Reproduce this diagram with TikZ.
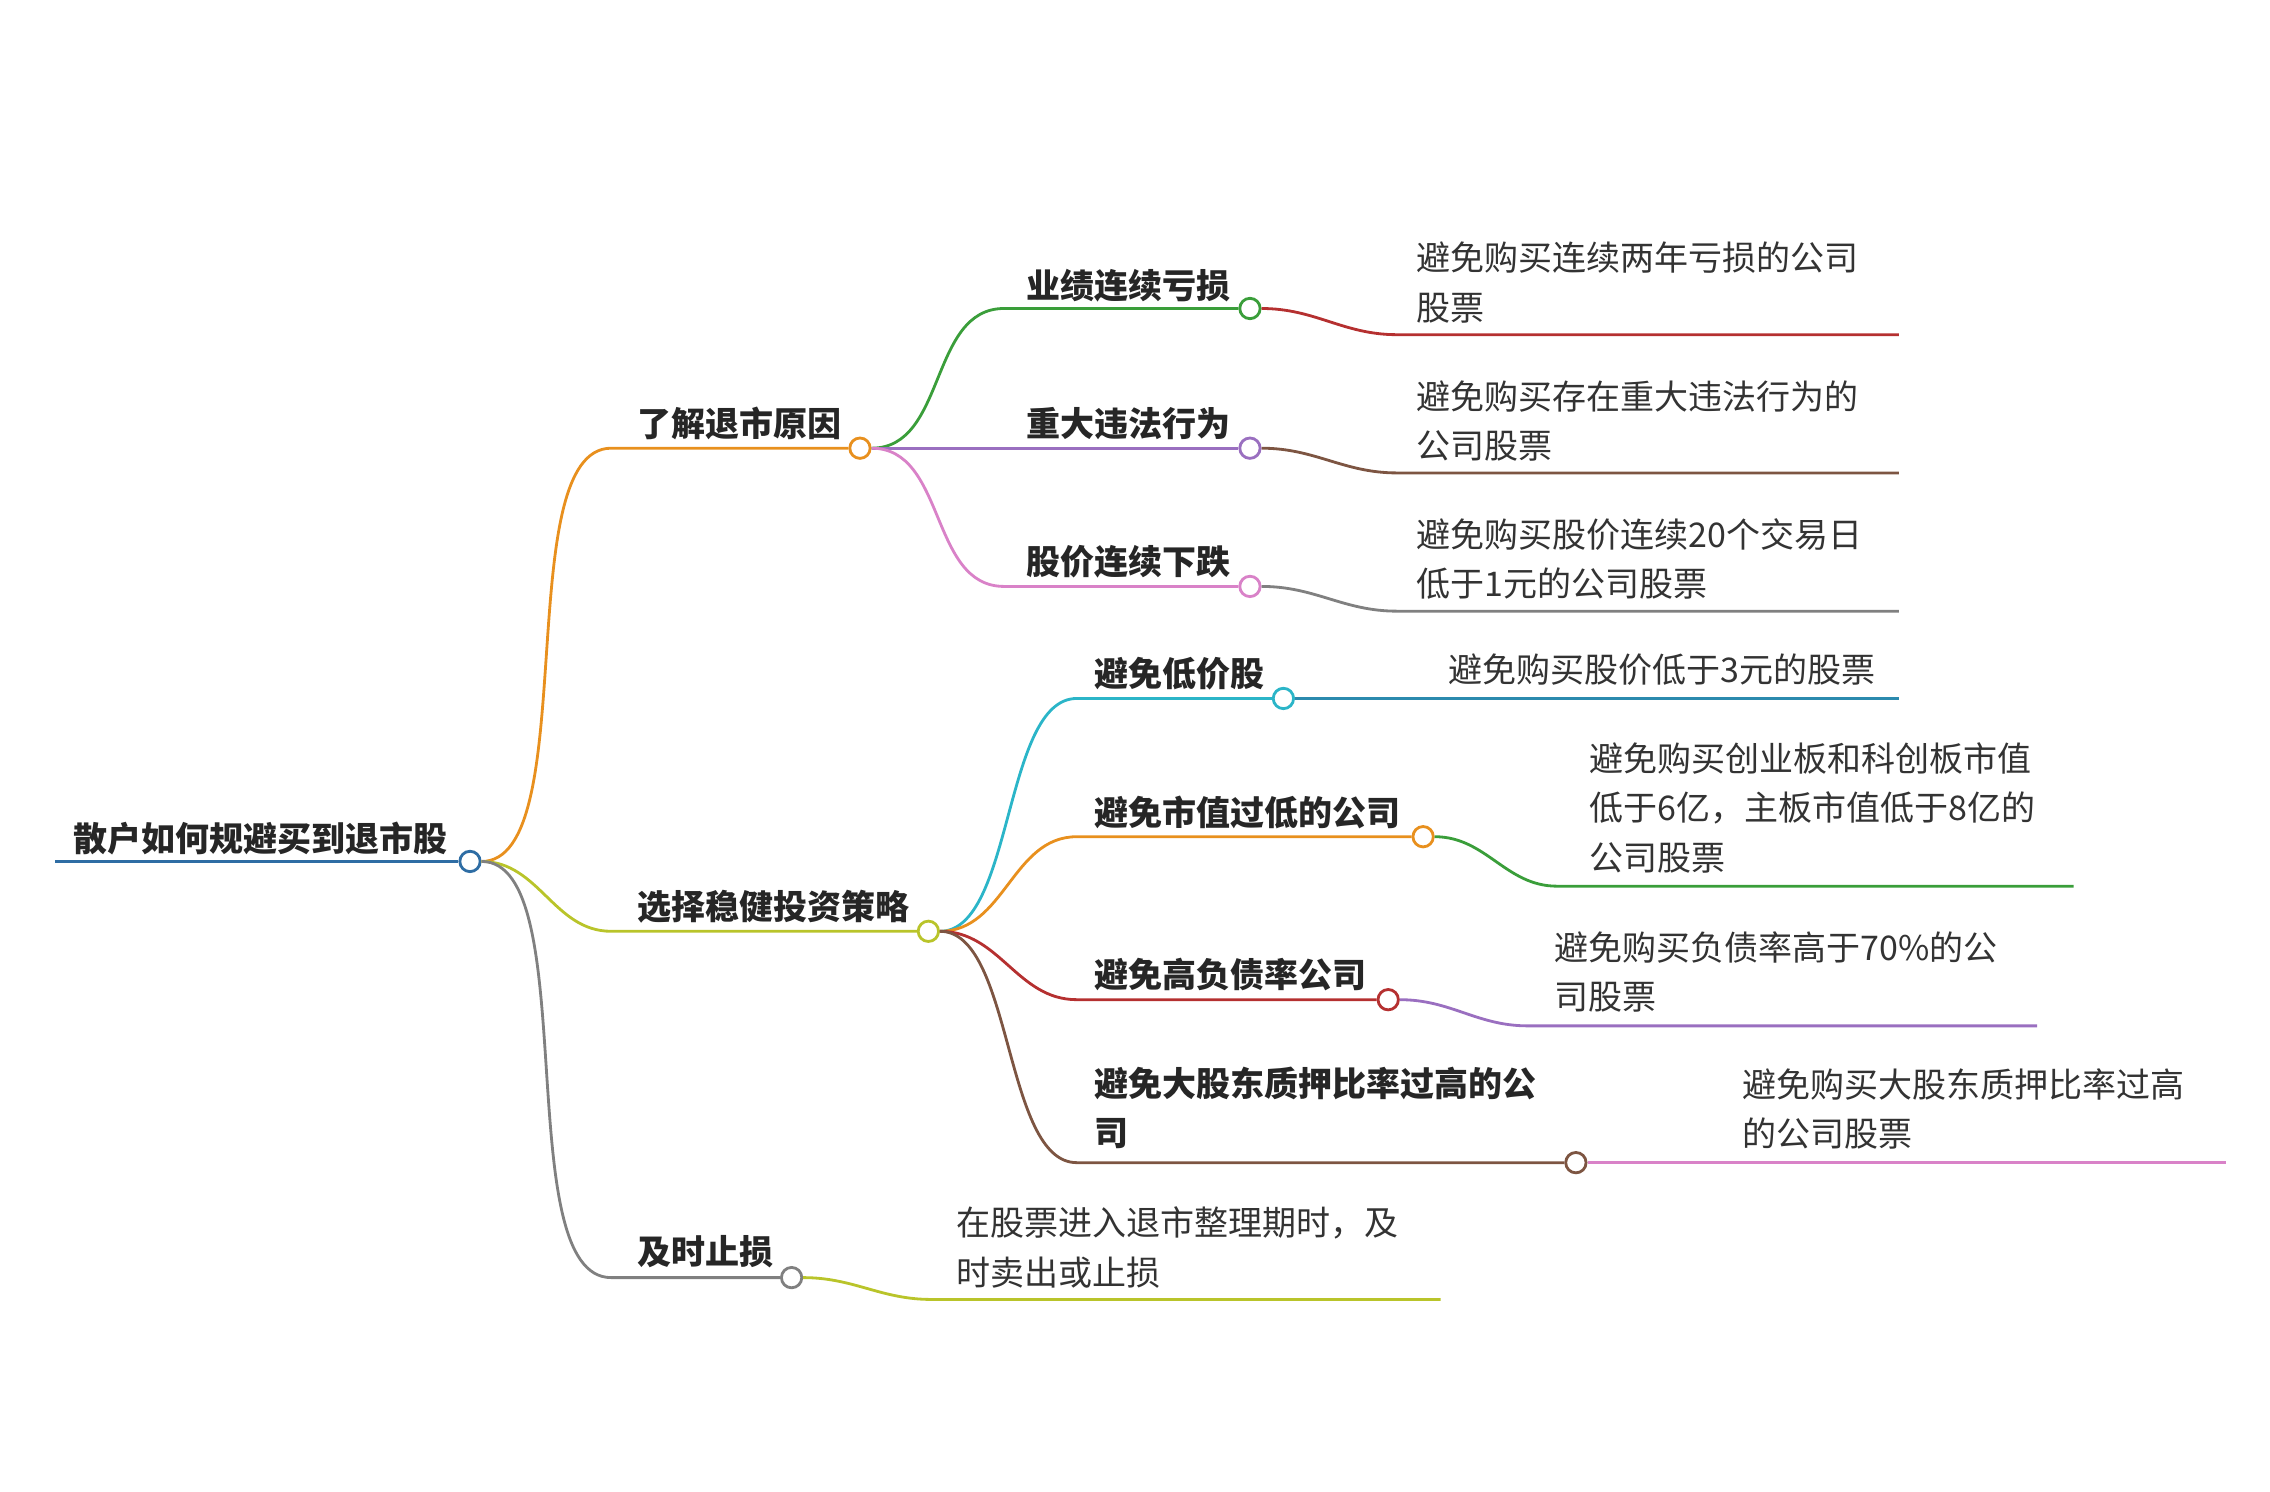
\documentclass[tikz,border=0pt]{standalone}
\usepackage{fontspec}
\setmainfont{Noto Sans CJK SC}
\begin{document}
\begin{tikzpicture}[x=0.02cm,y=-0.02cm,
  dot/.style={circle,draw=#1,fill=white,line width=1.1pt,inner sep=0pt,minimum size=0.28cm},
  ln/.style={draw=#1,line width=1.1pt},
  lab/.style={anchor=west,inner sep=0pt,font=\fontsize{13.3}{19}\selectfont\bfseries,text=black!85},
  leaf/.style={anchor=north west,inner sep=0pt,align=left,font=\fontsize{13.3}{19.3}\selectfont,text=black!80}]
\useasboundingbox (0,0) rectangle (1560,1025);
\definecolor{cblue}{HTML}{2E6DA4}\definecolor{corange}{HTML}{E8901E}
\definecolor{cgreen}{HTML}{3A9E3A}\definecolor{cpurple}{HTML}{9A6FC0}
\definecolor{cpink}{HTML}{D982C8}\definecolor{cred}{HTML}{B53030}
\definecolor{cbrown}{HTML}{7D5542}\definecolor{cgray}{HTML}{808080}
\definecolor{cyg}{HTML}{B9C42A}\definecolor{ccyan}{HTML}{2BB5C8}
\definecolor{cteal}{HTML}{2B8AAE}
% root
\coordinate (r0) at (38,592);
\node[dot=cblue] (r) at (323,592) {};
\draw[ln=cblue] (r0) -- (r);
\node[lab] (rt) at (50,576) {散户如何规避买到退市股};
% level 1
\coordinate (a0) at (420,308); \node[dot=corange] (a) at (591,308) {};
\draw[ln=corange] (r) to[out=0,in=180,looseness=0.6] (a0) -- (a);
\node[lab] (at) at (438,291) {了解退市原因};
\coordinate (b0) at (420,640); \node[dot=cyg] (b) at (638,640) {};
\draw[ln=cyg] (r) to[out=0,in=180] (b0) -- (b);
\node[lab] (bt) at (438,623) {选择稳健投资策略};
\coordinate (c0) at (420,878); \node[dot=cgray] (c) at (544,878) {};
\draw[ln=cgray] (r) to[out=0,in=180,looseness=0.6] (c0) -- (c);
\node[lab] (ct) at (438,860) {及时止损};
% under a
\coordinate (a10) at (690,212); \node[dot=cgreen] (a1) at (859,212) {};
\draw[ln=cgreen] (a) to[out=0,in=180] (a10) -- (a1);
\node[lab] at (705,196) {业绩连续亏损};
\coordinate (a1l) at (960,230); \coordinate (a1e) at (1305,230);
\draw[ln=cred] (a1) to[out=0,in=180] (a1l) -- (a1e);
\node[leaf] at (973,166) {避免购买连续两年亏损的公司\\股票};
\node[dot=cpurple] (a2) at (859,308) {};
\draw[ln=cpurple] (a) -- (a2);
\node[lab] at (705,291) {重大违法行为};
\coordinate (a2l) at (960,325); \coordinate (a2e) at (1305,325);
\draw[ln=cbrown] (a2) to[out=0,in=180] (a2l) -- (a2e);
\node[leaf] at (973,261) {避免购买存在重大违法行为的\\公司股票};
\coordinate (a30) at (690,403); \node[dot=cpink] (a3) at (859,403) {};
\draw[ln=cpink] (a) to[out=0,in=180] (a30) -- (a3);
\node[lab] at (705,386) {股价连续下跌};
\coordinate (a3l) at (960,420); \coordinate (a3e) at (1305,420);
\draw[ln=cgray] (a3) to[out=0,in=180] (a3l) -- (a3e);
\node[leaf] at (973,356) {避免购买股价连续20个交易日\\低于1元的公司股票};
% under b
\coordinate (b10) at (740,480); \node[dot=ccyan] (b1) at (882,480) {};
\draw[ln=ccyan] (b) to[out=0,in=180,looseness=0.7] (b10) -- (b1);
\node[lab] at (752,463) {避免低价股};
\coordinate (b1e) at (1305,480);
\draw[ln=cteal] (b1) -- (b1e);
\node[leaf] at (995,449) {避免购买股价低于3元的股票};
\coordinate (b20) at (740,575); \node[dot=corange] (b2) at (978,575) {};
\draw[ln=corange] (b) to[out=0,in=180] (b20) -- (b2);
\node[lab] at (752,558) {避免市值过低的公司};
\coordinate (b2l) at (1070,609); \coordinate (b2e) at (1425,609);
\draw[ln=cgreen] (b2) to[out=0,in=180] (b2l) -- (b2e);
\node[leaf] at (1092,510) {避免购买创业板和科创板市值\\低于6亿，主板市值低于8亿的\\公司股票};
\coordinate (b30) at (740,687); \node[dot=cred] (b3) at (954,687) {};
\draw[ln=cred] (b) to[out=0,in=180] (b30) -- (b3);
\node[lab] at (752,670) {避免高负债率公司};
\coordinate (b3l) at (1050,705); \coordinate (b3e) at (1400,705);
\draw[ln=cpurple] (b3) to[out=0,in=180] (b3l) -- (b3e);
\node[leaf] at (1068,640) {避免购买负债率高于70\%的公\\司股票};
\coordinate (b40) at (740,799); \node[dot=cbrown] (b4) at (1083,799) {};
\draw[ln=cbrown] (b) to[out=0,in=180,looseness=0.7] (b40) -- (b4);
\node[lab,anchor=north west,align=left,font=\fontsize{13.3}{19.3}\selectfont\bfseries] at (752,733) {避免大股东质押比率过高的公\\司};
\coordinate (b4e) at (1530,799);
\draw[ln=cpink] (b4) -- (b4e);
\node[leaf] at (1197,734) {避免购买大股东质押比率过高\\的公司股票};
% under c
\coordinate (cl) at (640,893); \coordinate (ce) at (990,893);
\draw[ln=cyg] (c) to[out=0,in=180] (cl) -- (ce);
\node[leaf] at (657,829) {在股票进入退市整理期时，及\\时卖出或止损};
\end{tikzpicture}
\end{document}
